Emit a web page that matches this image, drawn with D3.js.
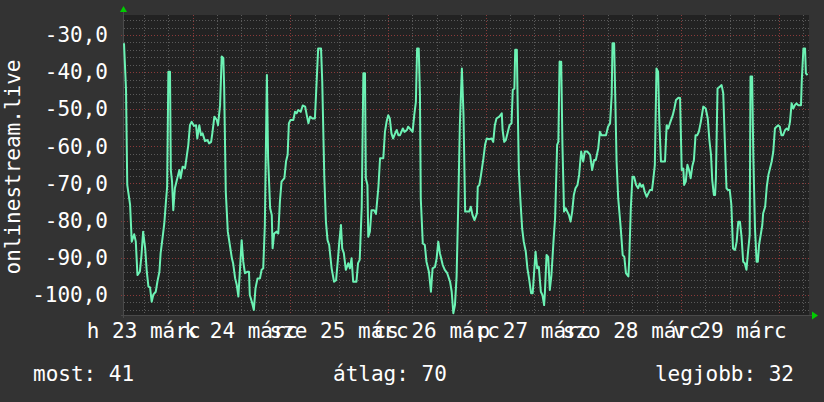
<!DOCTYPE html>
<html><head><meta charset="utf-8">
<script src="https://cdn.jsdelivr.net/npm/d3@7"></script>
<style>
html,body{margin:0;padding:0;background:#333333;}
svg{display:block;}
text{font-family:"DejaVu Sans Mono",monospace;fill:#ffffff;}
</style></head>
<body>
<svg id="chart" width="824" height="402"></svg>
<script>
// ---- data ----
const seriesName = "onlinestream.live";
const startTime = new Date(2015, 2, 23, 7, 10);   // left edge of plot
const spanHours = 168.27;
// time offsets (hours from startTime)
const hours = [0,0.5,0.8,1.5,1.9,2.5,2.9,3.3,3.9,4.3,4.7,5.2,5.6,6.0,6.4,6.8,7.2,7.8,8.2,8.7,9.0,9.5,9.9,10.3,10.6,10.9,11.3,11.5,11.8,12.1,12.5,12.9,13.3,13.6,13.9,14.4,15.0,15.4,15.8,16.2,16.6,17.2,17.7,18.0,18.5,18.9,19.3,19.9,20.5,20.9,21.4,21.7,22.2,22.8,23.1,23.6,24.0,24.4,24.6,25.0,25.5,26.0,26.5,26.8,27.3,
27.7,28.1,28.5,28.9,29.3,29.7,30.4,30.7,30.9,31.4,31.9,32.3,32.8,33.4,33.8,34.2,34.6,35.1,35.4,35.9,36.3,36.5,36.9,37.5,37.9,38.3,38.7,39.4,39.8,40.2,40.5,40.9,41.6,42.0,42.4,42.8,43.4,43.9,44.5,44.9,45.3,45.7,46.3,46.9,47.3,47.7,48.4,48.7,49.2,49.6,50.0,50.4,51.0,51.6,52.1,52.5,52.9,53.3,53.6,54.0,54.5,55.1,
55.5,55.9,56.3,57.1,57.5,57.9,58.4,58.8,59.2,59.4,59.8,60.0,60.4,60.8,61.4,61.9,62.5,62.9,63.7,64.1,64.5,64.9,65.3,65.7,66.1,66.6,67.0,67.4,67.8,68.5,68.9,69.5,69.8,70.2,70.9,71.3,71.7,72.0,72.4,72.7,72.9,73.4,73.9,74.3,74.9,75.4,75.8,76.4,76.8,77.2,77.6,78.3,78.8,79.4,80.1,80.5,80.9,81.3,81.7,82.1,82.5,83.0,83.4,83.8,
84.2,84.8,85.2,85.6,86.1,86.7,86.9,87.3,87.7,88.3,88.7,89.1,89.7,90.3,90.7,91.1,91.5,92.2,92.8,93.0,93.4,93.8,94.3,94.7,95.2,95.5,95.9,96.1,96.5,96.7,97.0,97.4,97.8,98.2,98.7,99.1,99.5,100.0,100.4,100.7,101.1,101.5,101.9,102.4,102.8,103.2,103.4,103.8,104.2,104.6,105.0,105.5,105.9,106.4,106.7,107.0,107.4,107.7,108.1,108.5,108.9,109.3,109.7,110.1,110.5,110.9,111.4,111.8,112.3,
112.8,113.2,113.8,114.5,115.0,115.5,115.9,116.5,116.9,117.3,117.9,118.4,118.9,119.4,119.8,120.0,120.4,120.6,121.0,121.4,122.0,122.5,122.9,123.3,123.9,124.1,124.5,124.9,125.3,125.8,126.3,126.7,127.1,127.5,127.9,128.4,128.8,129.2,129.7,130.0,130.4,130.8,131.2,131.5,131.9,132.9,133.3,133.7,134.1,134.8,135.2,135.6,136.2,136.6,137.0,137.4,137.6,138.0,138.4,138.8,139.2,139.6,140.0,140.4,
140.8,141.2,141.7,142.3,142.9,143.4,143.8,144.2,144.5,144.9,145.2,145.4,145.8,146.4,146.8,147.2,147.6,148.0,148.4,148.8,149.2,149.6,150.1,150.5,150.9,151.3,151.7,152.1,152.5,152.9,153.3,153.7,153.9,154.3,154.6,155.0,155.4,155.7,156.0,156.4,156.8,157.0,157.5,157.9,158.3,158.7,159.1,159.5,159.9,160.3,160.7,161.1,161.5,161.9,162.4,162.8,163.2,163.6,164.0,164.4,164.8,165.2,165.6,166.3,166.5,166.9,167.3,167.5,167.9];
// signal values (dB)
const values = [-32.2,-44.8,-70.4,-75.8,-85.7,-83.7,-85.7,-94.7,-93.8,-89.3,-83.0,-87.5,-93.8,-97.8,-98.0,-101.9,-100.0,-99.2,-96.5,-93.8,-88.8,-84.4,-80.8,-74.9,-70.9,-39.9,-39.9,-66.4,-69.5,-77.2,-71.3,-69.5,-67.7,-66.4,-68.6,-65.5,-65.9,-62.8,-59.6,-54.3,-53.4,-54.5,-54.3,-57.9,-54.3,-57.0,-56.5,-58.6,-58.3,-59.2,-58.8,-56.5,-52.0,-52.9,-54.3,-48.9,-35.8,-36.2,-43.9,-72.2,-83.0,-86.6,-90.2,-91.5,-95.6,
-97.4,-100.5,-92.9,-85.3,-91.1,-94.2,-93.8,-93.8,-100.1,-101.9,-104.1,-98.3,-95.6,-95.6,-93.3,-92.9,-81.2,-40.8,-63.2,-76.7,-78.5,-87.5,-83.5,-83.0,-83.5,-74.9,-69.5,-68.6,-64.1,-62.3,-53.8,-52.9,-52.9,-50.7,-51.1,-50.2,-50.7,-49.0,-49.3,-51.6,-53.8,-52.0,-52.5,-52.5,-43.0,-33.6,-33.6,-42.6,-68.2,-80.3,-85.3,-86.6,-92.9,-96.5,-96.1,-91.1,-85.7,-81.2,-87.5,-88.8,-93.3,-91.5,
-92.9,-90.2,-96.5,-96.5,-91.5,-90.6,-76.3,-40.3,-40.3,-68.6,-70.4,-84.4,-83.0,-77.2,-77.2,-78.2,-70.9,-63.2,-63.2,-56.1,-53.4,-51.6,-52.5,-56.5,-57.9,-56.5,-55.6,-57.0,-57.0,-55.2,-56.1,-55.6,-54.7,-55.2,-56.1,-51.6,-48.0,-33.6,-33.6,-46.2,-74.0,-86.2,-86.6,-91.1,-93.8,-99.2,-92.9,-92.5,-90.2,-85.7,-88.8,-92.0,-93.3,-94.2,-96.5,-99.2,-105.0,-102.8,-95.1,-76.3,-54.3,-39.0,-51.6,-77.6,
-77.6,-77.6,-76.3,-78.5,-79.9,-78.1,-70.9,-70.4,-67.7,-63.2,-59.6,-57.9,-58.1,-57.9,-58.8,-54.3,-52.5,-52.0,-51.1,-55.6,-58.8,-58.3,-56.1,-54.3,-53.8,-44.8,-44.4,-34.0,-34.0,-48.0,-66.8,-74.9,-82.1,-85.7,-88.4,-92.9,-95.6,-99.6,-99.6,-94.7,-88.4,-92.9,-92.5,-99.2,-100.1,-102.8,-99.2,-89.3,-89.8,-98.7,-94.7,-85.7,-79.4,-59.6,-58.8,-37.2,-37.2,-59.6,-77.6,-76.7,-77.6,-78.5,-80.3,-77.6,-73.1,-71.3,-70.4,-67.7,-61.4,
-64.1,-61.4,-61.4,-62.3,-66.4,-63.7,-63.7,-60.5,-56.1,-57.0,-57.0,-57.0,-54.7,-53.8,-46.2,-32.2,-32.2,-42.6,-64.1,-74.0,-81.7,-89.3,-89.8,-94.2,-95.1,-90.7,-76.7,-68.2,-68.2,-70.4,-71.3,-70.0,-70.9,-70.4,-72.2,-73.6,-72.7,-71.8,-71.8,-69.1,-65.0,-39.0,-39.9,-53.4,-64.1,-64.1,-54.3,-55.2,-53.8,-51.6,-49.8,-47.5,-46.9,-47.0,-66.4,-66.0,-70.4,-69.5,-65.0,-66.4,-68.6,-65.4,-63.7,-57.0,
-57.0,-56.1,-53.4,-49.3,-49.8,-52.5,-58.3,-62.3,-69.1,-73.1,-73.1,-68.6,-44.4,-43.9,-43.5,-45.7,-58.8,-71.3,-71.8,-71.8,-75.8,-87.5,-87.9,-85.7,-80.3,-80.3,-84.4,-91.1,-91.5,-93.3,-88.4,-83.9,-41.2,-41.2,-63.2,-82.1,-91.1,-91.1,-86.6,-83.9,-81.2,-78.1,-76.3,-70.9,-67.7,-65.9,-64.1,-61.4,-55.2,-54.7,-54.3,-54.7,-57.0,-57.0,-55.6,-55.2,-55.6,-53.4,-48.4,-49.8,-48.9,-48.4,-48.9,-48.9,-42.2,-33.6,-33.6,-40.3,-40.8];
const yTickValues = [-30,-40,-50,-60,-70,-80,-90,-100];
const dayLabels = ["h 23 márc","k 24 márc","sze 25 márc","cs 26 márc","p 27 márc","szo 28 márc","v 29 márc"];
const dayDates = [23,24,25,26,27,28,29];
const legendItems = [["most", 41],["átlag", 70],["legjobb", 32]];

// ---- layout ----
const svg = d3.select("#chart");
const L = 124, R = 809, T = 15, B = 315;
const H = 3600e3;
const x = d3.scaleTime().domain([startTime, new Date(+startTime + spanHours*H)]).range([L, R]);
const y = d3.scaleLinear().domain([-105.47, -24.6]).range([B, T]);
const FONT = 21;

svg.append("rect").attr("width",824).attr("height",402).attr("fill","#333333");
svg.append("rect").attr("x",L).attr("y",T).attr("width",R-L).attr("height",B-T).attr("fill","#222222");

const grid = svg.append("g");
// horizontal minor grid (every 2)
const yMinor = d3.range(-104, -24, 2).filter(v => v % 10 !== 0);
grid.selectAll(".hm").data(yMinor).join("line")
  .attr("x1",L).attr("x2",R).attr("y1",d=>Math.round(y(d))+0.5).attr("y2",d=>Math.round(y(d))+0.5)
  .attr("stroke","#5a5a5a").attr("stroke-width",1).attr("stroke-dasharray","1,2");
// vertical minor grid (every 6 h)
const vMinor = d3.timeHour.every(6).range(x.domain()[0], x.domain()[1]).filter(d => d.getHours() !== 0);
grid.selectAll(".vm").data(vMinor).join("line")
  .attr("y1",T).attr("y2",B+3).attr("x1",d=>Math.round(x(d))+0.5).attr("x2",d=>Math.round(x(d))+0.5)
  .attr("stroke","#5a5a5a").attr("stroke-width",1).attr("stroke-dasharray","1,2");
// major grid
grid.selectAll(".hM").data(yTickValues).join("line")
  .attr("x1",L-3).attr("x2",R).attr("y1",d=>Math.round(y(d))+0.5).attr("y2",d=>Math.round(y(d))+0.5)
  .attr("stroke","#8a3a3a").attr("stroke-width",1).attr("stroke-dasharray","1,2");
const vMajor = d3.timeDay.range(x.domain()[0], x.domain()[1]);
grid.selectAll(".vM").data(vMajor).join("line")
  .attr("y1",T).attr("y2",B+3).attr("x1",d=>Math.round(x(d))+0.5).attr("x2",d=>Math.round(x(d))+0.5)
  .attr("stroke","#8a3a3a").attr("stroke-width",1).attr("stroke-dasharray","1,2");

// axes lines
svg.append("line").attr("x1",L-0.5).attr("x2",L-0.5).attr("y1",T-3).attr("y2",B+3).attr("stroke","#4a4a4a");
svg.append("line").attr("x1",L-3).attr("x2",R+3).attr("y1",B+0.5).attr("y2",B+0.5).attr("stroke","#4a4a4a");
// arrows
svg.append("path").attr("d",`M${L-4},${T-3} L${L+3},${T-3} L${L-0.5},${T-9} Z`).attr("fill","#00cc00");
svg.append("path").attr("d",`M${R+3},${B-3.5} L${R+3},${B+4.5} L${R+9},${B+0.5} Z`).attr("fill","#00cc00");

// data line
const pts = hours.map((h,i) => ({t: new Date(+startTime + h*H), v: values[i]}));
svg.append("path").datum(pts)
  .attr("fill","none").attr("stroke","#6cf2b4").attr("stroke-width",2).attr("stroke-linejoin","round")
  .attr("d", d3.line().x(d=>x(d.t)).y(d=>y(d.v)));

// y axis labels
const yAxis = d3.axisLeft(y).tickValues(yTickValues).tickSize(0).tickPadding(16)
  .tickFormat(d => d.toFixed(1).replace(".", ","));
const ya = svg.append("g").attr("transform",`translate(${L},0)`).call(yAxis);
ya.select(".domain").remove();
ya.selectAll("text").attr("font-family","DejaVu Sans Mono").attr("font-size",FONT).attr("fill","#ffffff");

// x labels (centred on noon of each day)
svg.append("g").selectAll("text").data(dayLabels).join("text")
  .attr("x",(d,i)=>x(new Date(2015,2,dayDates[i],12,0)))
  .attr("y",338).attr("text-anchor","middle").attr("font-size",FONT)
  .attr("xml:space","preserve").style("white-space","pre").text(d=>d);

// y title
svg.append("text").attr("transform","translate(20,167) rotate(-90)")
  .attr("text-anchor","middle").attr("font-size",FONT).text(seriesName);

// legend
const legX = [[33,"start"],[333,"start"],[794,"end"]];
svg.append("g").selectAll("text").data(legendItems).join("text")
  .attr("x",(d,i)=>legX[i][0]).attr("y",381).attr("text-anchor",(d,i)=>legX[i][1])
  .attr("font-size",FONT).style("white-space","pre").text(d=>`${d[0]}: ${d[1]}`);
</script>
</body></html>
